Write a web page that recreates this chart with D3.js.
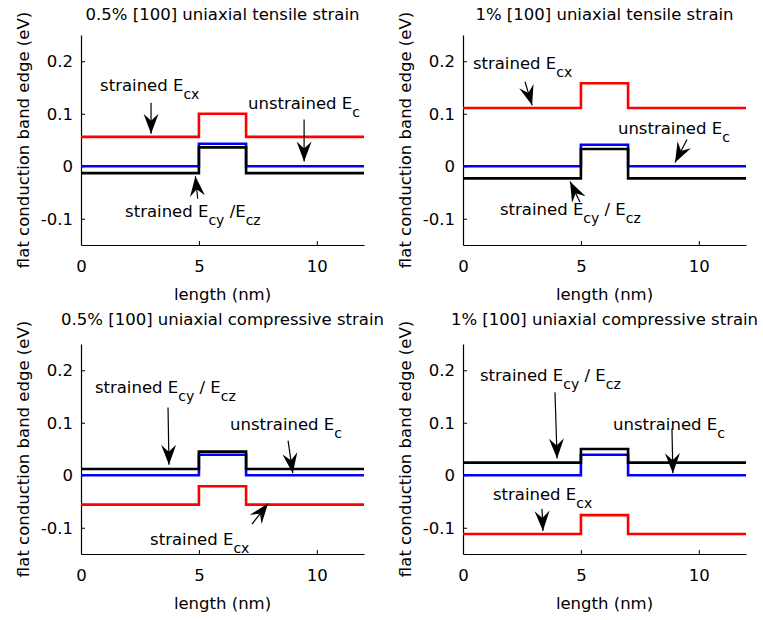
<!DOCTYPE html>
<html>
<head>
<meta charset="utf-8">
<script src="https://cdn.jsdelivr.net/npm/d3@7"></script>
<style>
  body { margin: 0; background: #fff; }
  text { font-family: 'DejaVu Sans', sans-serif; fill: #000; }
</style>
</head>
<body>
<script>

// x positions of the band profile corners (nm)
const xNodes = [0, 5, 5, 7, 7, 12];
const xTicks = [0, 5, 10];
const yTicks = [-0.1, 0, 0.1, 0.2];
const yTickLabels = ['-0.1', '0', '0.1', '0.2'];

const titles = [
	'0.5% [100] uniaxial tensile strain',
	'1% [100] uniaxial tensile strain',
	'0.5% [100] uniaxial compressive strain',
	'1% [100] uniaxial compressive strain'
];

// conduction band edge (eV) at each corner of xNodes
const tensile05Ecx  = [0.056, 0.056, 0.100, 0.100, 0.056, 0.056];
const tensile05Ec   = [0, 0, 0.043, 0.043, 0, 0];
const tensile05Ecyz = [-0.013, -0.013, 0.036, 0.036, -0.013, -0.013];

const tensile1Ecx  = [0.111, 0.111, 0.158, 0.158, 0.111, 0.111];
const tensile1Ec   = [0, 0, 0.041, 0.041, 0, 0];
const tensile1Ecyz = [-0.023, -0.023, 0.033, 0.033, -0.023, -0.023];

const compress05Ecx  = [-0.056, -0.056, -0.021, -0.021, -0.056, -0.056];
const compress05Ec   = [0, 0, 0.039, 0.039, 0, 0];
const compress05Ecyz = [0.012, 0.012, 0.045, 0.045, 0.012, 0.012];

const compress1Ecx  = [-0.112, -0.112, -0.076, -0.076, -0.112, -0.112];
const compress1Ec   = [0, 0, 0.039, 0.039, 0, 0];
const compress1Ecyz = [0.024, 0.024, 0.050, 0.050, 0.024, 0.024];

// text arrows, in data units: label anchor, arrow tail, arrow tip
const tensile05Notes = [
	{ text: [['strained E'], ['cx', 1]], at: [0.81, 0.144], from: [2.97, 0.121], to: [2.97, 0.062] },
	{ text: [['unstrained E'], ['c', 1]], at: [7.08, 0.110], from: [9.46, 0.089], to: [9.46, 0.009] },
	{ text: [['strained E'], ['cy', 1], [' /E'], ['cz', 1]], at: [1.87, -0.097], from: [4.95, -0.062], to: [4.85, -0.019] }
];
const tensile1Notes = [
	{ text: [['strained E'], ['cx', 1]], at: [0.42, 0.186], from: [2.63, 0.161], to: [2.93, 0.116] },
	{ text: [['unstrained E'], ['c', 1]], at: [6.57, 0.062], from: [9.5, 0.051], to: [8.99, 0.007] },
	{ text: [['strained E'], ['cy', 1], [' / E'], ['cz', 1]], at: [1.57, -0.093], from: [4.96, -0.068], to: [4.54, -0.029] }
];
const compress05Notes = [
	{ text: [['strained E'], ['cy', 1], [' / E'], ['cz', 1]], at: [0.59, 0.156], from: [3.69, 0.129], to: [3.73, 0.020] },
	{ text: [['unstrained E'], ['c', 1]], at: [6.32, 0.087], from: [8.78, 0.066], to: [8.98, 0.004] },
	{ text: [['strained E'], ['cx', 1]], at: [2.93, -0.133], from: [7.25, -0.093], to: [7.93, -0.054] }
];
const compress1Notes = [
	{ text: [['strained E'], ['cy', 1], [' / E'], ['cz', 1]], at: [0.72, 0.179], from: [3.9, 0.158], to: [3.99, 0.032] },
	{ text: [['unstrained E'], ['c', 1]], at: [6.36, 0.087], from: [8.86, 0.089], to: [8.9, 0.004] },
	{ text: [['strained E'], ['cx', 1]], at: [1.27, -0.047], from: [3.35, -0.064], to: [3.39, -0.106] }
];

const panels = [
	{ title: titles[0], left: 81, top: 35, titleGap: 15.5, ecx: tensile05Ecx, ec: tensile05Ec, ecyz: tensile05Ecyz, notes: tensile05Notes },
	{ title: titles[1], left: 463, top: 35, titleGap: 15.5, ecx: tensile1Ecx, ec: tensile1Ec, ecyz: tensile1Ecyz, notes: tensile1Notes },
	{ title: titles[2], left: 81, top: 344, titleGap: 19.5, ecx: compress05Ecx, ec: compress05Ec, ecyz: compress05Ecyz, notes: compress05Notes },
	{ title: titles[3], left: 463, top: 344, titleGap: 19.5, ecx: compress1Ecx, ec: compress1Ec, ecyz: compress1Ecyz, notes: compress1Notes }
];

const pw = 283, ph = 210;
const fontSize = 16.5;

const svg = d3.select('body').append('svg')
	.attr('width', 763)
	.attr('height', 620);

svg.append('rect').attr('width', 763).attr('height', 620).attr('fill', '#fff');

panels.forEach(p => drawPanel(p));

function drawPanel(p) {

	const x = d3.scaleLinear().domain([0, 12]).range([0, pw]);
	const y = d3.scaleLinear().domain([-0.15, 0.25]).range([ph, 0]);

	const g = svg.append('g').attr('transform', 'translate(' + p.left + ',' + p.top + ')');

	// axes, ticks pointing inward like matlab
	const xAxis = d3.axisBottom(x).tickValues(xTicks).tickSizeInner(-4).tickSizeOuter(0).tickPadding(15);
	const yAxis = d3.axisLeft(y).tickValues(yTicks).tickSizeInner(-4).tickSizeOuter(0).tickPadding(8)
		.tickFormat((d, i) => yTickLabels[i]);

	const gx = g.append('g').attr('transform', 'translate(0,' + ph + ')').call(xAxis);
	const gy = g.append('g').call(yAxis);

	[gx, gy].forEach(a => {
		a.attr('font-family', null).attr('font-size', null);
		a.select('.domain').attr('stroke', '#000').attr('stroke-width', 1.2);
		a.selectAll('.tick line').attr('stroke', '#000');
		a.selectAll('.tick text').style('font-size', fontSize + 'px').attr('fill', '#000');
	});

	// band edge profiles
	const line = d3.line()
		.x(d => x(d[0]))
		.y(d => y(d[1]));

	const series = [
		{ values: p.ecx, color: '#ff0000' },
		{ values: p.ec, color: '#0000ff' },
		{ values: p.ecyz, color: '#000000' }
	];

	series.forEach(s => {
		g.append('path')
			.datum(xNodes.map((v, i) => [v, s.values[i]]))
			.attr('d', line)
			.attr('fill', 'none')
			.attr('stroke', s.color)
			.attr('stroke-width', 2.6)
			.attr('stroke-linejoin', 'miter');
	});

	// labels
	g.append('text')
		.attr('x', pw / 2)
		.attr('y', -p.titleGap)
		.attr('text-anchor', 'middle')
		.style('font-size', fontSize + 'px')
		.text(p.title);

	g.append('text')
		.attr('x', pw / 2)
		.attr('y', ph + 55)
		.attr('text-anchor', 'middle')
		.style('font-size', fontSize + 'px')
		.text('length (nm)');

	g.append('text')
		.attr('transform', 'translate(-52,' + (ph / 2) + ') rotate(-90)')
		.attr('text-anchor', 'middle')
		.style('font-size', fontSize + 'px')
		.text('flat conduction band edge (eV)');

	// text arrows
	p.notes.forEach(n => {

		const t = g.append('text')
			.attr('x', x(n.at[0]))
			.attr('y', y(n.at[1]))
			.style('font-size', fontSize + 'px');

		let low = false;
		n.text.forEach(seg => {
			const sub = !!seg[1];
			const ts = t.append('tspan').text(seg[0]);
			if (sub && !low) ts.attr('dy', 8);
			if (!sub && low) ts.attr('dy', -8);
			if (sub) ts.style('font-size', '14px');
			low = sub;
		});

		const x0 = x(n.from[0]), y0 = y(n.from[1]);
		const x1 = x(n.to[0]), y1 = y(n.to[1]);
		const ang = Math.atan2(y1 - y0, x1 - x0) * 180 / Math.PI;

		g.append('line')
			.attr('x1', x0).attr('y1', y0)
			.attr('x2', x1).attr('y2', y1)
			.attr('stroke', '#000')
			.attr('stroke-width', 1.2);

		// notched head, a bit heavier like the matlab textarrow
		g.append('path')
			.attr('d', 'M0,0L-20,-7.5L-13,0L-20,7.5Z')
			.attr('transform', 'translate(' + x1 + ',' + y1 + ') rotate(' + ang + ')')
			.attr('fill', '#000');
	});
}

</script>
</body>
</html>
